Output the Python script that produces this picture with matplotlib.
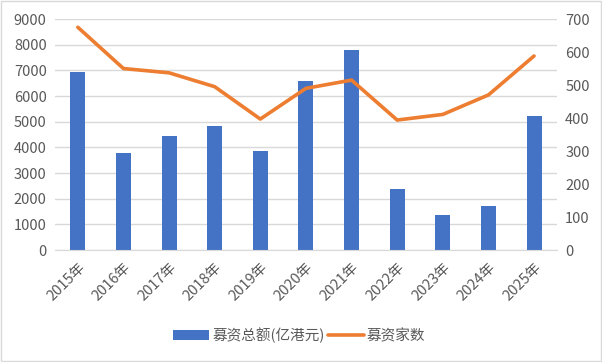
import matplotlib.pyplot as plt
from matplotlib.patches import Rectangle

plt.rcParams['font.family'] = ['Noto Sans CJK SC', 'DejaVu Sans']

# 数据
years = ['2015年', '2016年', '2017年', '2018年', '2019年', '2020年',
         '2021年', '2022年', '2023年', '2024年', '2025年']
amount = [6950, 3780, 4450, 4830, 3860, 6600, 7800, 2400, 1370, 1720, 5230]
count = [675, 550, 537, 495, 397, 490, 515, 394, 411, 470, 588]

BAR_COLOR = '#4472C4'
LINE_COLOR = '#ED7D31'
GRID_COLOR = '#D9D9D9'
TEXT_COLOR = '#595959'

fig = plt.figure(figsize=(6.02, 3.62), dpi=100)
ax = fig.add_axes([0.0914, 0.309, 0.8336, 0.6385])
ax2 = ax.twinx()

x = list(range(len(years)))
bars = ax.bar(x, amount, width=0.33, color=BAR_COLOR, label='募资总额(亿港元)', zorder=2)
line, = ax2.plot(x, count, color=LINE_COLOR, linewidth=2.6, label='募资家数',
                 solid_capstyle='round', solid_joinstyle='round', zorder=3)

ax.set_xlim(-0.5, len(years) - 0.5)
ax.set_ylim(0, 9000)
ax.set_yticks(range(0, 9001, 1000))
ax2.set_ylim(0, 700)
ax2.set_yticks(range(0, 701, 100))

ax.grid(axis='y', color=GRID_COLOR, linewidth=1, zorder=0)
ax.set_axisbelow(True)

for a in (ax, ax2):
    for s in ('top', 'left', 'right'):
        a.spines[s].set_visible(False)
    a.spines['bottom'].set_color(GRID_COLOR)
    a.tick_params(axis='y', length=0, labelsize=10.5, labelcolor=TEXT_COLOR, pad=6)
ax2.spines['bottom'].set_visible(False)

ax.set_xticks(x)
ax.set_xticklabels(years, rotation=45, ha='right', rotation_mode='anchor')
ax.tick_params(axis='x', length=0, labelsize=10.5, labelcolor=TEXT_COLOR, pad=7)

fig.legend(handles=[bars, line], loc='center', bbox_to_anchor=(0.497, 0.074), ncol=2,
           frameon=False, fontsize=10.5, handlelength=2.5, handletextpad=0.2,
           columnspacing=0.2, labelcolor=TEXT_COLOR)

# 外框
fig.patches.append(Rectangle((0.002, 0.003), 0.996, 0.994, transform=fig.transFigure,
                             fill=False, edgecolor=GRID_COLOR, linewidth=1))

fig.savefig('out.png', dpi=100, facecolor='white')
